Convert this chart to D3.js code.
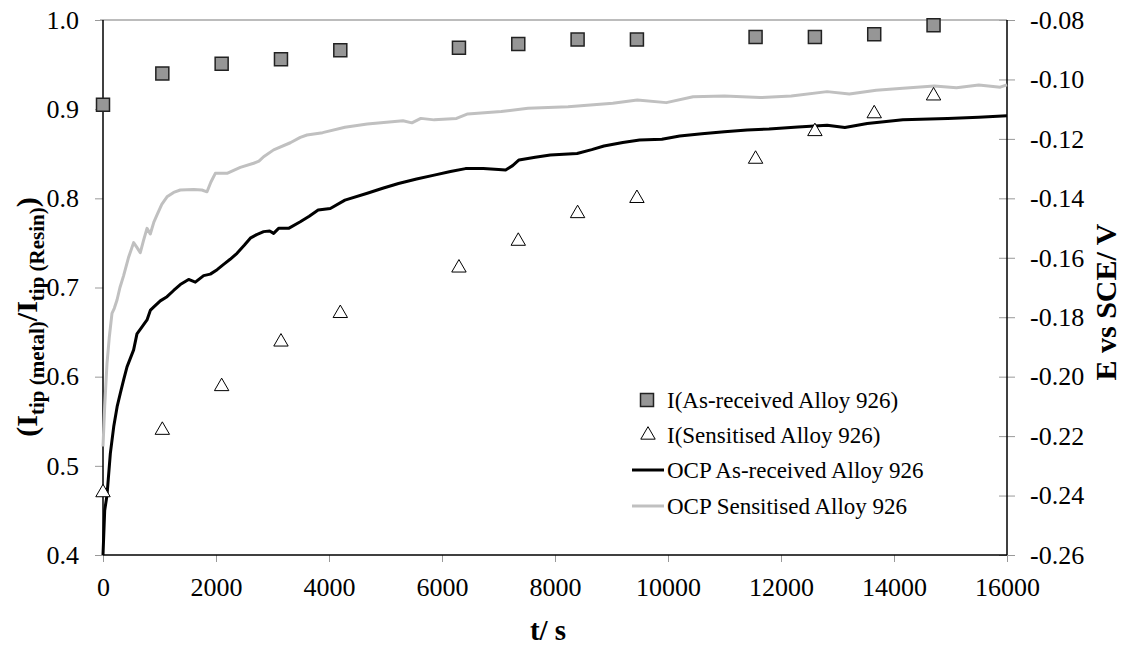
<!DOCTYPE html>
<meta charset="utf-8">
<script src="https://d3js.org/d3.v7.min.js"></script>
<style>
  body { margin: 0; background: #fff; }
  text { font-family: "Liberation Serif", "Times New Roman", serif; }
</style>
<div id="chart"></div>
<script>

// sampling times (s) for the tip current ratio
var sampleTimes = [0, 1050, 2100, 3150, 4200, 6300, 7350, 8400, 9450, 11550, 12600, 13650, 14700]
// I(As-received Alloy 926)
var ratioAsReceived = [0.905, 0.940, 0.951, 0.956, 0.966, 0.969, 0.973, 0.978, 0.978, 0.981, 0.981, 0.984, 0.994]
// I(Sensitised Alloy 926)
var ratioSensitised = [0.470, 0.540, 0.589, 0.639, 0.671, 0.722, 0.752, 0.783, 0.800, 0.844, 0.875, 0.895, 0.915]

// OCP As-received Alloy 926 : [t, E]
var ocpAsReceived = [
  [0,-0.2600],[30,-0.2450],[70,-0.2400],[130,-0.2258],[190,-0.2168],[250,-0.2101],[306,-0.2056],
  [365,-0.2011],[425,-0.1967],[542,-0.1910],[601,-0.1856],[700,-0.1830],[779,-0.1809],[840,-0.1776],
  [900,-0.1765],[1014,-0.1745],[1133,-0.1731],[1250,-0.1710],[1368,-0.1690],[1515,-0.1673],
  [1634,-0.1682],[1781,-0.1660],[1899,-0.1655],[2020,-0.1640],[2135,-0.1622],[2250,-0.1605],
  [2372,-0.1585],[2500,-0.1558],[2607,-0.1534],[2720,-0.1522],[2843,-0.1512],[2950,-0.1510],
  [3020,-0.1518],[3108,-0.1501],[3285,-0.1501],[3492,-0.1479],[3650,-0.1460],[3808,-0.1439],
  [4023,-0.1434],[4282,-0.1406],[4678,-0.1383],[4950,-0.1366],[5230,-0.1350],[5550,-0.1335],
  [5862,-0.1322],[6150,-0.1310],[6416,-0.1300],[6731,-0.1300],[7000,-0.1303],[7126,-0.1305],
  [7250,-0.1290],[7363,-0.1271],[7650,-0.1262],[7917,-0.1254],[8391,-0.1249],[8650,-0.1236],
  [8866,-0.1224],[9200,-0.1212],[9497,-0.1204],[9892,-0.1201],[10207,-0.1190],[10600,-0.1183],
  [10998,-0.1176],[11400,-0.1170],[11788,-0.1167],[12300,-0.1160],[12816,-0.1154],[13131,-0.1162],
  [13526,-0.1148],[14157,-0.1136],[14949,-0.1131],[15500,-0.1127],[16000,-0.1122]
]

// OCP Sensitised Alloy 926 : [t, E]
var ocpSensitised = [
  [0,-0.2235],[30,-0.2100],[71,-0.1955],[110,-0.1870],[159,-0.1787],[200,-0.1770],[248,-0.1742],
  [300,-0.1700],[365,-0.1660],[450,-0.1600],[542,-0.1549],[600,-0.1565],[660,-0.1583],[720,-0.1540],
  [779,-0.1501],[837,-0.1520],[900,-0.1480],[956,-0.1456],[1040,-0.1420],[1133,-0.1395],
  [1250,-0.1380],[1368,-0.1372],[1604,-0.1370],[1750,-0.1372],[1841,-0.1378],[1910,-0.1345],
  [1988,-0.1316],[2195,-0.1316],[2430,-0.1296],[2666,-0.1282],[2760,-0.1275],[2843,-0.1260],
  [3020,-0.1237],[3315,-0.1213],[3492,-0.1195],[3610,-0.1187],[3887,-0.1179],[4282,-0.1161],
  [4678,-0.1150],[5310,-0.1139],[5467,-0.1146],[5625,-0.1131],[5862,-0.1136],[6257,-0.1131],
  [6455,-0.1116],[7048,-0.1108],[7522,-0.1097],[8232,-0.1092],[9023,-0.1080],[9457,-0.1069],
  [9970,-0.1078],[10444,-0.1058],[10998,-0.1056],[11630,-0.1061],[12182,-0.1056],[12816,-0.1041],
  [13210,-0.1049],[13685,-0.1036],[14157,-0.1030],[14712,-0.1022],[15106,-0.1028],[15501,-0.1019],
  [15880,-0.1026],[16000,-0.1018]
]

var xTicks = [0, 2000, 4000, 6000, 8000, 10000, 12000, 14000, 16000]
var leftTicks = [0.4, 0.5, 0.6, 0.7, 0.8, 0.9, 1.0]
var rightTicks = [-0.26, -0.24, -0.22, -0.20, -0.18, -0.16, -0.14, -0.12, -0.10, -0.08]

var legendLabels = ["I(As-received Alloy 926)", "I(Sensitised Alloy 926)",
                    "OCP As-received Alloy 926", "OCP Sensitised Alloy 926"]

drawChart()

function drawChart(){
  var width = 1124, height = 650
  var pLeft = 103, pRight = 1007, pTop = 20, pBottom = 555

  var svg = d3.select("#chart").append("svg").attr("width", width).attr("height", height)

  var x = d3.scaleLinear().domain([0, 16000]).range([pLeft, pRight])
  var yL = d3.scaleLinear().domain([0.4, 1.0]).range([pBottom, pTop])
  var yR = d3.scaleLinear().domain([-0.26, -0.08]).range([pBottom, pTop])

  // axes
  var gx = svg.append("g").attr("transform", "translate(0," + pBottom + ")")
    .call(d3.axisBottom(x).tickValues(xTicks).tickFormat(d3.format("d")).tickSize(7).tickPadding(16))
  var gl = svg.append("g").attr("transform", "translate(" + pLeft + ",0)")
    .call(d3.axisLeft(yL).tickValues(leftTicks).tickFormat(d3.format(".1f")).tickSize(8).tickPadding(16))
  var gr = svg.append("g").attr("transform", "translate(" + (pRight - 8) + ",0)")
    .call(d3.axisRight(yR).tickValues(rightTicks).tickFormat(d3.format(".2f")).tickSize(16).tickPadding(15))

  ;[gx, gl, gr].forEach(function(g){
    g.select(".domain").remove()
    g.selectAll(".tick line").attr("stroke", "#999").attr("stroke-width", 1)
    g.selectAll(".tick text").attr("fill", "#000").style("font-size", "26px")
      .style("font-family", "'Liberation Serif', serif")
  })
  gr.selectAll(".tick text").text(function(d){ return d3.format(".2f")(d).replace("−", "-") })

  // frame
  svg.append("line").attr("x1", pLeft - 3).attr("x2", pRight).attr("y1", pTop).attr("y2", pTop)
    .attr("stroke", "#a6a6a6").attr("stroke-width", 1.5)
  svg.append("line").attr("x1", pLeft).attr("x2", pLeft).attr("y1", pTop).attr("y2", pBottom)
    .attr("stroke", "#000").attr("stroke-width", 1.5)
  svg.append("line").attr("x1", pRight).attr("x2", pRight).attr("y1", pTop).attr("y2", pBottom)
    .attr("stroke", "#000").attr("stroke-width", 1.5)
  svg.append("line").attr("x1", pLeft).attr("x2", pRight).attr("y1", pBottom).attr("y2", pBottom)
    .attr("stroke", "#000").attr("stroke-width", 1.5)

  // OCP lines on the right axis
  var line = d3.line().x(function(d){ return x(d[0]) }).y(function(d){ return yR(d[1]) })
  svg.append("path").datum(ocpSensitised).attr("d", line)
    .attr("fill", "none").attr("stroke", "#c0c0c0").attr("stroke-width", 3).attr("stroke-linejoin", "round")
  svg.append("path").datum(ocpAsReceived).attr("d", line)
    .attr("fill", "none").attr("stroke", "#000").attr("stroke-width", 3).attr("stroke-linejoin", "round")

  // current ratio markers on the left axis
  var square = d3.symbol().type(d3.symbolSquare).size(169)
  var triangle = d3.symbol().type(d3.symbolTriangle).size(90)

  svg.append("g").selectAll("path")
    .data(sampleTimes)
    .join("path")
    .attr("d", triangle)
    .attr("transform", function(d, i){ return "translate(" + x(d) + "," + yL(ratioSensitised[i]) + ")" })
    .attr("fill", "#fff").attr("stroke", "#000").attr("stroke-width", 1)

  svg.append("g").selectAll("path")
    .data(sampleTimes)
    .join("path")
    .attr("d", square)
    .attr("transform", function(d, i){ return "translate(" + x(d) + "," + yL(ratioAsReceived[i]) + ")" })
    .attr("fill", "#969696").attr("stroke", "#222").attr("stroke-width", 1.5)

  // legend
  var legY = [400, 435, 470, 506]
  var leg = svg.append("g")
  leg.append("path").attr("d", square).attr("transform", "translate(647," + legY[0] + ")")
    .attr("fill", "#969696").attr("stroke", "#222").attr("stroke-width", 1.5)
  leg.append("path").attr("d", triangle).attr("transform", "translate(648," + legY[1] + ")")
    .attr("fill", "#fff").attr("stroke", "#000").attr("stroke-width", 1)
  leg.append("line").attr("x1", 632).attr("x2", 664).attr("y1", legY[2]).attr("y2", legY[2])
    .attr("stroke", "#000").attr("stroke-width", 3)
  leg.append("line").attr("x1", 632).attr("x2", 664).attr("y1", legY[3]).attr("y2", legY[3])
    .attr("stroke", "#c0c0c0").attr("stroke-width", 3)
  leg.selectAll(".legText")
    .data(legendLabels)
    .join("text")
    .attr("x", 667)
    .attr("y", function(d, i){ return legY[i] })
    .attr("dy", "0.35em")
    .style("font-size", "23px")
    .text(function(d){ return d })

  // axis titles
  svg.append("text").attr("x", 548).attr("y", 640).attr("text-anchor", "middle")
    .style("font-size", "29px").style("font-weight", "bold").text("t/ s")

  var lt = svg.append("text").attr("transform", "translate(37,317) rotate(-90)")
    .attr("text-anchor", "middle").style("font-weight", "bold").style("font-size", "30px")
  lt.append("tspan").text("(I")
  lt.append("tspan").attr("dy", 7).style("font-size", "21px").text("tip (metal)")
  lt.append("tspan").attr("dy", -7).text("/I")
  lt.append("tspan").attr("dy", 7).style("font-size", "21px").text("tip (Resin)")
  lt.append("tspan").attr("dy", -7).text(")")

  svg.append("text").attr("transform", "translate(1116,302) rotate(-90)")
    .attr("text-anchor", "middle").style("font-weight", "bold").style("font-size", "30px")
    .text("E vs SCE/ V")
}

</script>
